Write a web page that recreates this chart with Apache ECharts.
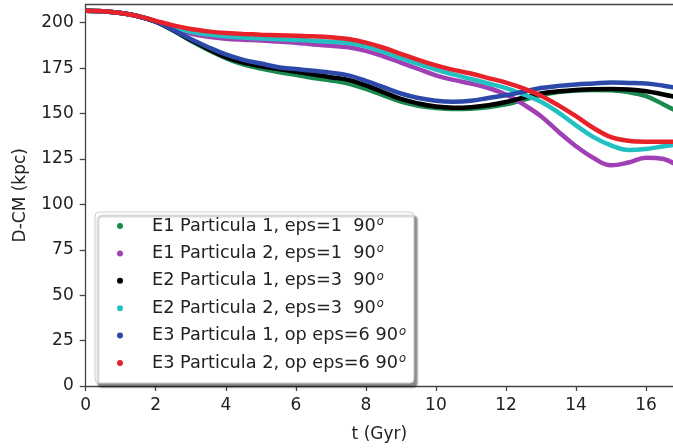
<!DOCTYPE html>
<html>
<head>
<meta charset="utf-8">
<script src="https://cdn.jsdelivr.net/npm/echarts@6/dist/echarts.min.js"></script>
<style>
html,body{margin:0;padding:0;background:#fff;}
#c{width:673px;height:448px;}
</style>
</head>
<body>
<div id="c"></div>
<script>
var tGyr = [0,0.5,1,1.5,2,2.5,3,3.5,4,4.5,5,5.5,6,6.5,7,7.5,8,8.5,9,9.5,10,10.5,11,11.5,12,12.5,13,13.5,14,14.5,15,15.5,16,16.5,16.8];

var e1p1 = [206.5,206.3,205.3,203.5,200.5,195.7,190,185,180.5,177,174.8,172.8,171.3,169.5,168.2,166.5,163.5,160,156.5,154.3,153,152.5,152.6,153.5,155,157.5,160,161.8,162.7,163,162.8,161.8,159.5,155,152];
var e1p2 = [206.5,206.3,205.3,203.5,200.6,197,194,192.3,191.2,190.6,190.2,189.6,189,188,187.3,186.5,184.5,181.5,178,174.5,171,168.5,166.5,164,160.5,155,148.5,140,132,125.5,121.5,123,125.7,125,122.5];
var e2p1 = [206.5,206.3,205.3,203.5,200.5,195.8,190.5,185.5,181,178,176,174.5,173,171.5,170,168.5,165.5,161.8,158,155.5,153.8,153.2,153.5,154.5,156.3,158.8,161,162.2,163,163.4,163.5,163.2,162.3,160.5,159.3];
var e2p2 = [206.5,206.3,205.3,203.6,200.8,197.5,195,193.5,192.5,191.8,191.3,190.9,190.5,190,189.5,188.8,187,184,180.5,177.3,174.2,171.5,169,166.5,164,160.5,156.5,150.5,143.5,137,132.5,129.9,130.5,132,132.8];
var e3p1 = [206.5,206.3,205.3,203.5,200.5,196,191,186.5,182.5,179.5,177.5,175.5,174.5,173.5,172.5,171,168,164.5,161,158.5,157,156.5,157,158.5,160,162,164,165.2,166,166.5,167,166.8,166.5,165.3,164.3];
var e3p2 = [206.5,206.3,205.3,203.6,201,198.5,196.5,195.2,194.3,193.8,193.4,193.1,192.8,192.5,192,191,189,186.2,182.8,179.5,176.5,174,172,169.5,167,163.8,159.8,154.5,148.5,142,137,135,134.5,134.5,134.5];

var seriesNames = [
  'E1 Particula 1, eps=1  90',
  'E1 Particula 2, eps=1  90',
  'E2 Particula 1, eps=3  90',
  'E2 Particula 2, eps=3  90',
  'E3 Particula 1, op eps=6 90',
  'E3 Particula 2, op eps=6 90'
];
var seriesValues = [e1p1, e1p2, e2p1, e2p2, e3p1, e3p2];
var colors = ['#1a8a50', '#a040b4', '#000000', '#22c0c0', '#2c48a8', '#e8222a'];

var yTicks = [0,25,50,75,100,125,150,175,200];
var xTicks = [0,2,4,6,8,10,12,14,16];

function pairs(vals){ return tGyr.map(function(t,i){ return [t, vals[i]]; }); }

var series = seriesNames.map(function(n, i){
  return {
    name: n,
    type: 'line',
    data: pairs(seriesValues[i]),
    smooth: 0.4,
    showSymbol: false,
    symbol: 'circle',
    lineStyle: {color: colors[i], width: 4.5},
    itemStyle: {color: colors[i]},
    z: 2 + i
  };
});

var chart = echarts.init(document.getElementById('c'), null, {renderer: 'canvas'});
var FONT = '"DejaVu Sans", sans-serif';
var AX = '#444';
chart.setOption({
  animation: false,
  backgroundColor: '#fff',
  grid: {
    left: 85.7, top: 4.5, bottom: 59, right: 0, show: false
  },
  xAxis: [{
    type: 'value', min: 0, max: 16.77, interval: 2,
    name: 't (Gyr)', nameLocation: 'middle', nameGap: 40,
    nameTextStyle: {fontFamily: FONT, fontSize: 17, color: '#222'},
    axisLine: {show: true, onZero: false, lineStyle: {color: AX, width: 1.3}},
    axisTick: {show: true, length: 5, inside: false, lineStyle: {color: AX, width: 1.3}},
    axisLabel: {fontFamily: FONT, fontSize: 17, color: '#222', margin: 11, showMaxLabel: false,
      formatter: function(v){ return xTicks.indexOf(v) >= 0 ? String(v) : ''; }},
    splitLine: {show: false}
  }, {
    type: 'value', min: 0, max: 16.77, position: 'top',
    axisLine: {show: true, onZero: false, lineStyle: {color: AX, width: 1.3}},
    axisTick: {show: false}, axisLabel: {show: false}, splitLine: {show: false}
  }],
  yAxis: {
    type: 'value', min: 0, max: 210, interval: 25,
    name: 'D-CM (kpc)', nameLocation: 'middle', nameGap: 57,
    nameTextStyle: {fontFamily: FONT, fontSize: 17, color: '#222'},
    axisLine: {show: true, onZero: false, lineStyle: {color: AX, width: 1.3}},
    axisTick: {show: true, length: 6, inside: false, lineStyle: {color: AX, width: 1.3}},
    axisLabel: {fontFamily: FONT, fontSize: 17, color: '#222', margin: 12, showMaxLabel: false,
      formatter: function(v){ return yTicks.indexOf(v) >= 0 ? String(v) : ''; }},
    splitLine: {show: false}
  },
  legend: {
    orient: 'vertical',
    left: 95, top: 212,
    icon: 'circle',
    itemWidth: 6, itemHeight: 6,
    itemGap: 7.4,
    padding: [4, 8, 10, 22],
    backgroundColor: '#fff',
    borderColor: '#cfcfcf', borderWidth: 1, borderRadius: 4,
    shadowColor: 'rgba(0,0,0,0.45)', shadowBlur: 2, shadowOffsetX: 3, shadowOffsetY: 4,
    formatter: function(n){ return n + '{sup|o}'; },
    textStyle: {
      fontFamily: FONT, fontSize: 17.7, color: '#222', lineHeight: 20,
      padding: [0, 0, 0, 24],
      rich: {sup: {fontFamily: FONT, fontSize: 11.5, fontStyle: 'italic', verticalAlign: 'top', padding: [0,0,9,1], color: '#222'}}
    },
    data: seriesNames
  },
  series: series
});
</script>
</body>
</html>
